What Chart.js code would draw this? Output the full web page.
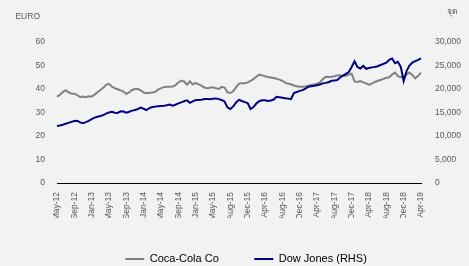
<!DOCTYPE html>
<html>
<head>
<meta charset="utf-8">
<script src="https://cdn.jsdelivr.net/npm/chart.js@4"></script>
<style>
  html, body { margin: 0; padding: 0; background: #f2f2f2; }
  canvas { display: block; }
</style>
</head>
<body>
<canvas id="myChart" width="469" height="266"></canvas>
<script>
// x-axis labels, one every 6 points
const tickLabels = ['May-12', 'Sep-12', 'Jan-13', 'May-13', 'Sep-13', 'Jan-14', 'May-14', 'Sep-14',
  'Jan-15', 'May-15', 'Aug-15', 'Dec-15', 'Apr-16', 'Aug-16', 'Dec-16', 'Apr-17', 'Aug-17',
  'Dec-17', 'Apr-18', 'Aug-18', 'Dec-18', 'Apr-19'];
const pointsPerTick = 6;

// Coca-Cola Co (EURO, left axis)
const cocaCola = [
  36.8, 37.5, 38.7, 39.5, 38.6, 38.1, 38.0, 37.4, 36.6, 36.8,
  36.5, 36.9, 36.8, 37.6, 38.6, 39.6, 40.5, 41.8, 42.2, 41.0,
  40.4, 39.9, 39.4, 38.9, 37.9, 38.6, 39.6, 40.0, 40.0, 39.4,
  38.5, 38.2, 38.4, 38.5, 38.8, 39.7, 40.4, 40.8, 41.0, 41.0,
  41.1, 41.6, 42.8, 43.6, 43.2, 41.8, 43.3, 41.9, 42.6, 42.0,
  41.4, 40.6, 40.3, 40.5, 40.7, 40.3, 40.0, 40.9, 40.6, 38.6,
  38.3, 39.0, 40.8, 42.3, 42.5, 42.5, 42.8, 43.5, 44.2, 45.2,
  46.1, 45.8, 45.4, 45.1, 44.9, 44.7, 44.4, 44.0, 43.5, 42.7,
  42.2, 42.0, 41.5, 41.2, 41.0, 41.0, 41.1, 41.4, 41.7, 41.9,
  42.3, 42.8, 44.2, 45.2, 45.1, 45.2, 45.4, 45.7, 45.8, 45.5,
  45.6, 46.2, 46.5, 43.2, 43.0, 43.4, 42.8, 42.4, 41.8, 42.3,
  43.0, 43.5, 43.8, 44.3, 44.8, 45.0, 46.2, 47.0, 45.5, 45.0,
  45.3, 46.2, 47.0, 46.0, 44.5, 45.6, 47.0
];

// Dow Jones (right axis)
const dowJones = [
  12150, 12250, 12400, 12600, 12800, 13000, 13200, 13250, 12900, 12700,
  12950, 13200, 13600, 13900, 14100, 14250, 14450, 14750, 15000, 15150,
  14950, 14900, 15250, 15200, 14950, 15150, 15400, 15550, 15750, 16050,
  15800, 15500, 15950, 16150, 16250, 16350, 16400, 16450, 16550, 16700,
  16450, 16650, 16950, 17150, 17400, 17600, 17050, 17350, 17650, 17650,
  17700, 17850, 17850, 17800, 17950, 18000, 17850, 17650, 17350, 16100,
  15750, 16300, 17150, 17700, 17450, 17200, 17000, 15750, 16150, 16900,
  17400, 17600, 17600, 17450, 17550, 17750, 18350, 18250, 18150, 18050,
  17950, 17850, 19150, 19350, 19600, 19750, 20100, 20500, 20600, 20700,
  20800, 20950, 21200, 21300, 21450, 21750, 21800, 21900, 22450, 22850,
  23200, 23600, 24700, 25900, 24700, 24350, 24900, 24300, 24450, 24600,
  24700, 24850, 25100, 25350, 25600, 26200, 26500, 25500, 25800, 24700,
  21700, 23800, 25000, 25600, 25950, 26200, 26500
];

const labels = cocaCola.map((v, i) => i % pointsPerTick === 0 ? tickLabels[i / pointsPerTick] : '');

const tickFont = { family: '"Liberation Sans", Arial, sans-serif', size: 8.5 };
const tickColor = '#595959';

// page background
const bgPlugin = {
  id: 'bg',
  beforeDraw(chart) {
    const ctx = chart.ctx;
    ctx.save();
    ctx.fillStyle = '#f2f2f2';
    ctx.fillRect(0, 0, chart.width, chart.height);
    ctx.restore();
  }
};

// unit labels above the two y axes
const unitLabels = {
  id: 'unitLabels',
  afterDraw(chart) {
    const { ctx, scales } = chart;
    ctx.save();
    ctx.font = '8.5px "Liberation Sans", Arial, sans-serif';
    ctx.fillStyle = tickColor;
    ctx.textBaseline = 'middle';
    ctx.textAlign = 'right';
    ctx.fillText('EURO', scales.y.right - 17, 17);
    ctx.textAlign = 'left';
    ctx.fillText('จุด', scales.y1.left + 26, 12);
    ctx.restore();
  }
};

new Chart('myChart', {
  type: 'line',
  data: {
    labels: labels,
    datasets: [{
      label: 'Coca-Cola Co',
      data: cocaCola,
      borderColor: '#808080',
      backgroundColor: '#808080',
      borderWidth: 2,
      pointRadius: 0,
      yAxisID: 'y',
      order: 1
    }, {
      label: 'Dow Jones (RHS)',
      data: dowJones,
      borderColor: '#000080',
      backgroundColor: '#000080',
      borderWidth: 2,
      pointRadius: 0,
      yAxisID: 'y1',
      order: 0
    }]
  },
  options: {
    responsive: false,
    animation: false,
    devicePixelRatio: 1,
    layout: { padding: { left: 23, right: 0, top: 42, bottom: 0 } },
    plugins: {
      tooltip: { enabled: false },
      legend: {
        position: 'bottom',
        align: 'center',
        maxHeight: 48,
        labels: {
          boxWidth: 19,
          boxHeight: 2,
          padding: 35.5,
          color: '#404040',
          font: { family: '"Liberation Sans", Arial, sans-serif', size: 11 },
          generateLabels: chart => chart.data.datasets.map((ds, i) => ({
            text: ds.label,
            fillStyle: ds.borderColor,
            strokeStyle: ds.borderColor,
            lineWidth: 0,
            hidden: false,
            datasetIndex: i
          }))
        }
      }
    },
    scales: {
      x: {
        type: 'category',
        offset: false,
        grid: { display: false, drawTicks: false },
        border: { display: true, color: '#000000', width: 1 },
        ticks: {
          autoSkip: false,
          minRotation: 90,
          maxRotation: 90,
          padding: 9,
          color: tickColor,
          font: tickFont
        },
        afterFit: s => { s.height = 35; }
      },
      y: {
        position: 'left',
        min: 0,
        max: 60,
        grid: { display: false, drawTicks: false },
        border: { display: false },
        ticks: { stepSize: 10, padding: 12, color: tickColor, font: tickFont },
        afterFit: s => { s.width = 34; }
      },
      y1: {
        position: 'right',
        min: 0,
        max: 30000,
        grid: { display: false, drawTicks: false },
        border: { display: false },
        ticks: {
          stepSize: 5000,
          padding: 14,
          color: tickColor,
          font: tickFont,
          callback: v => v.toLocaleString('en-US')
        },
        afterFit: s => { s.width = 48; }
      }
    }
  },
  plugins: [bgPlugin, unitLabels]
});
</script>
</body>
</html>
